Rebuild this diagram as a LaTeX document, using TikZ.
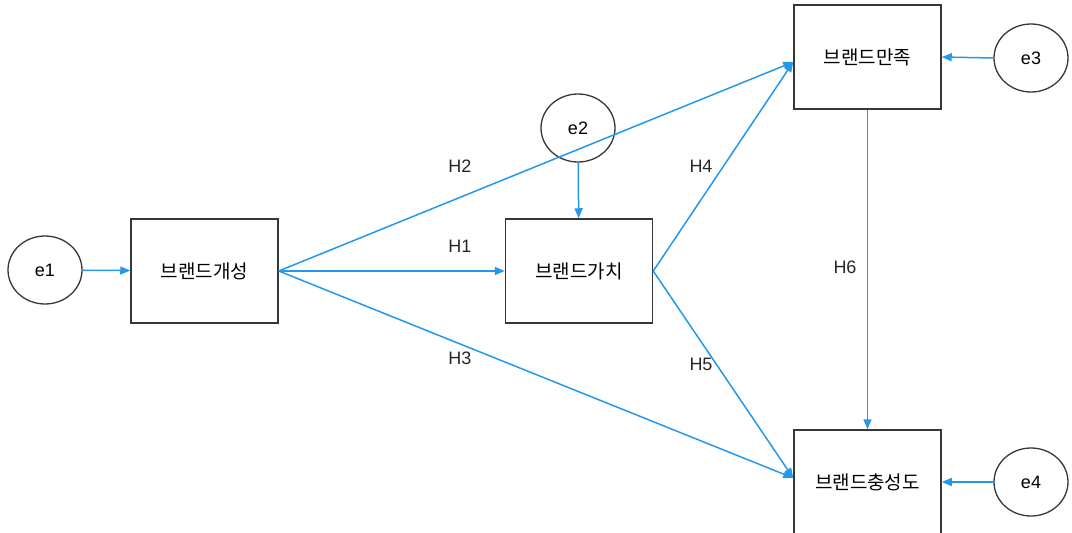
\documentclass[tikz,border=0pt]{standalone}
\usepackage{fontspec}
\setmainfont{Liberation Sans}
\newfontfamily\kr{Noto Sans CJK KR}
\usetikzlibrary{arrows.meta,shapes.geometric,calc}
\definecolor{arrowblue}{RGB}{38,152,236}
\definecolor{boxgray}{RGB}{55,55,55}
\tikzset{
  var/.style={draw=boxgray,line width=1.5pt,minimum width=147pt,minimum height=104pt,inner sep=0pt,font=\kr\fontsize{19}{22}\selectfont},
  err/.style={ellipse,draw=boxgray,line width=1.3pt,minimum width=74pt,minimum height=68pt,inner sep=0pt,font=\fontsize{18}{21}\selectfont},
  conn/.style={draw=arrowblue,line width=1.5pt,-{Triangle[length=10pt,width=8pt]}},
  hlab/.style={font=\fontsize{18}{21}\selectfont,text=black!85}
}
\begin{document}
\begin{tikzpicture}[x=1pt,y=-1pt]
\useasboundingbox[fill=white] (0,0) rectangle (1072,533);
\node[var] (A) at (204.5,271) {브랜드개성};
\node[var] (B) at (579,271) {브랜드가치};
\node[var] (C) at (867.5,57) {브랜드만족};
\node[var] (D) at (867.5,482) {브랜드충성도};
\node[err] (e1) at (45,270) {e1};
\node[err] (e2) at (578,128) {e2};
\node[err] (e3) at (1031,58) {e3};
\node[err] (e4) at (1031,482) {e4};
\coordinate (Cin) at ($(C.west)+(0,5)$);
\coordinate (Din) at ($(D.west)+(0,-4)$);
\draw[conn] (e1) -- (A);
\draw[conn] (e2) -- (B);
\draw[conn] (e3.west) -- (C.east);
\draw[conn] (e4.west) -- (D.east);
\draw[conn] (A.east) -- (B.west);
\draw[conn] (A.east) -- (Cin);
\draw[conn] (A.east) -- (Din);
\draw[conn] (B.east) -- (Cin);
\draw[conn] (B.east) -- (Din);
\draw[conn] (C.south) -- (D.north);
\node[hlab] (h1) at (460,246) {H1};
\node[hlab] (h2) at (460,166) {H2};
\node[hlab] (h3) at (460,358) {H3};
\node[hlab] (h4) at (701,166) {H4};
\node[hlab] (h5) at (701,364) {H5};
\node[hlab] (h6) at (845,267) {H6};
\end{tikzpicture}
\end{document}
